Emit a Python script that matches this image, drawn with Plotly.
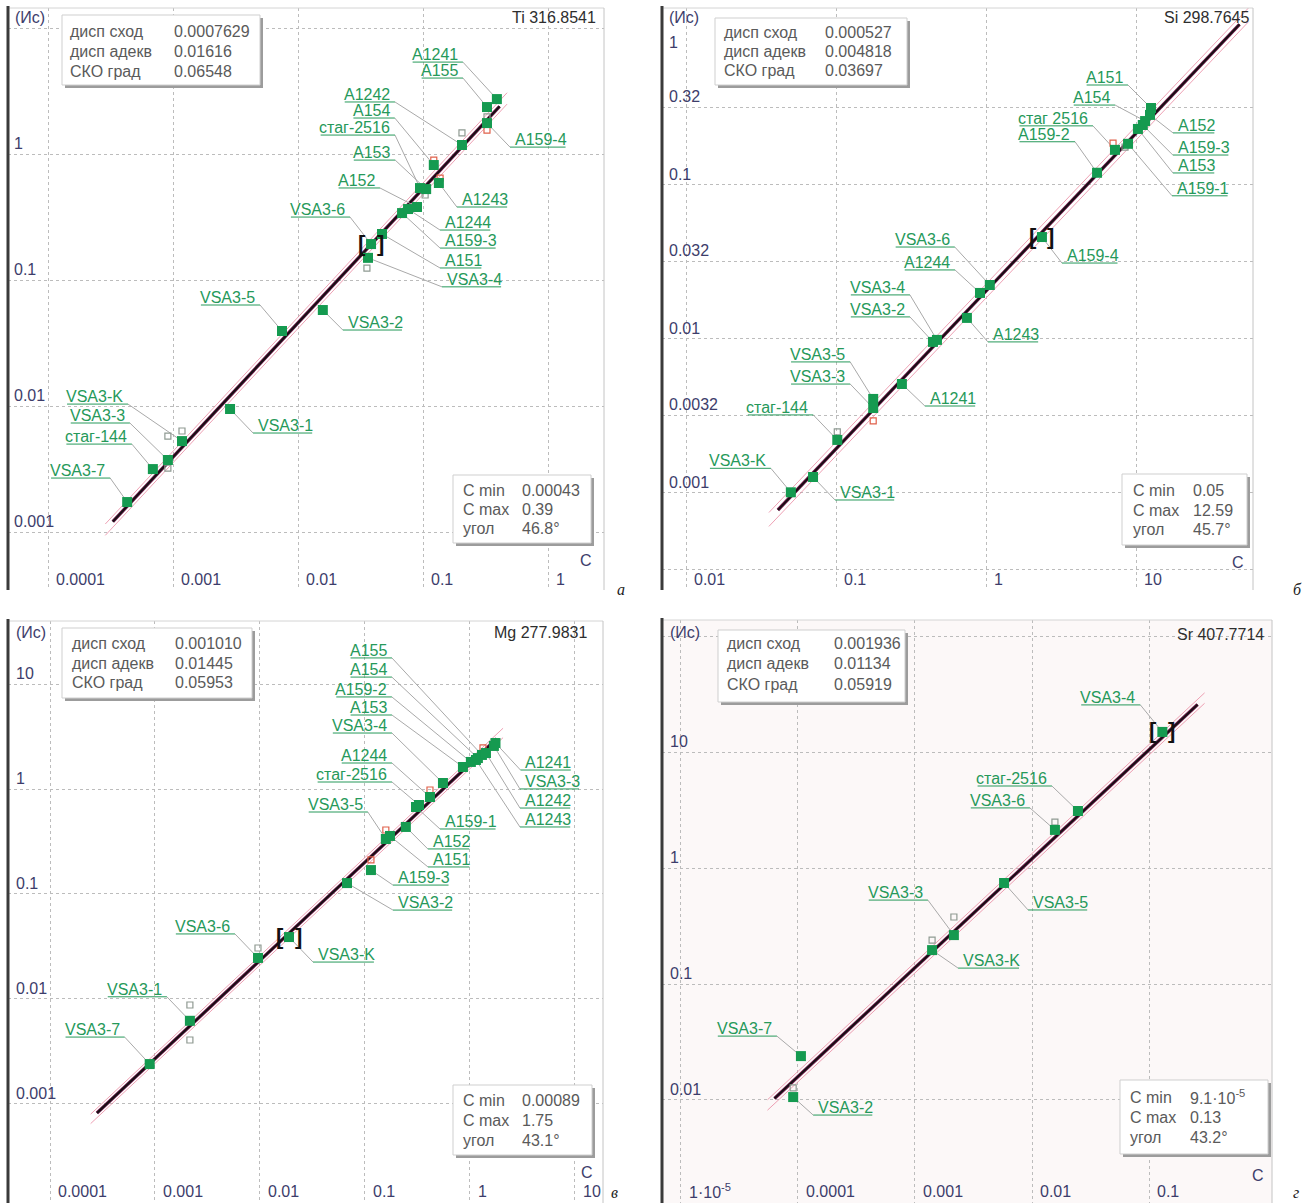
import math
import plotly.graph_objects as go

W, H = 1306, 1203

# ---------------- Ti 316.8541 ----------------
ti_names = ["VSA3-7", "стаг-144", "VSA3-3", "VSA3-K", "VSA3-1", "VSA3-5", "VSA3-2",
            "VSA3-4", "VSA3-6", "A151", "A159-3", "A1244", "A152", "стаг-2516",
            "A153", "A1243", "A154", "A1242", "A155", "A159-4", "A1241"]
ti_c = [0.00043, 0.00069, 0.00091, 0.00118, 0.00286, 0.00745, 0.0158,
        0.0363, 0.0384, 0.047, 0.068, 0.0759, 0.0895, 0.0946,
        0.106, 0.134, 0.122, 0.205, 0.325, 0.325, 0.39]
ti_i = [0.00173, 0.00316, 0.00373, 0.00527, 0.00947, 0.0394, 0.0578,
        0.150, 0.193, 0.232, 0.340, 0.366, 0.380, 0.537,
        0.527, 0.589, 0.818, 1.18, 2.36, 1.76, 2.73]
ti_rep_c = [0.00091, 0.00118, 0.00091, 0.0356, 0.205, 0.325, 0.104]
ti_rep_i = [0.00578, 0.00634, 0.00322, 0.1245, 1.47, 1.97, 0.473]
ti_out_c = [0.325, 0.137, 0.122]
ti_out_i = [1.55, 0.645, 0.896]
ti_stats = ["0.0007629", "0.01616", "0.06548"]
ti_range = ["0.00043", "0.39", "46.8°"]
ti_fit = dict(angle=46.8, intercept=0.79, c_from=0.00033, c_to=0.41)
ti_selected = "VSA3-6"

# ---------------- Si 298.7645 ----------------
si_names = ["VSA3-K", "VSA3-1", "стаг-144", "VSA3-3", "VSA3-5", "A1241", "VSA3-2",
            "VSA3-4", "A1243", "A1244", "VSA3-6", "A159-4", "A159-2", "стаг 2516",
            "A159-1", "A153", "A159-3", "A154", "A152", "A151"]
si_c = [0.05, 0.0703, 0.102, 0.177, 0.177, 0.275, 0.443,
        0.471, 0.746, 0.912, 1.06, 2.36, 5.5, 7.24,
        8.85, 10.3, 11.1, 11.5, 12.4, 12.59]
si_i = [0.00101, 0.00127, 0.00221, 0.00356, 0.00408, 0.0051, 0.00957,
        0.00986, 0.0137, 0.0199, 0.0224, 0.0459, 0.12, 0.169,
        0.185, 0.231, 0.245, 0.26, 0.285, 0.316]
si_rep_c = [0.102, 8.45]
si_rep_i = [0.00249, 0.176]
si_out_c = [0.177, 7.03]
si_out_i = [0.00294, 0.187]
si_stats = ["0.000527", "0.004818", "0.03697"]
si_range = ["0.05", "12.59", "45.7°"]
si_fit = dict(angle=45.7, intercept=-1.689, c_from=0.041, c_to=49.0)
si_selected = "A159-4"

# ---------------- Mg 277.9831 ----------------
mg_names = ["VSA3-7", "VSA3-1", "VSA3-6", "VSA3-K", "VSA3-2", "A159-3", "VSA3-5",
            "A151", "A152", "A159-1", "стаг-2516", "A1244", "VSA3-4", "A153",
            "A159-2", "A154", "A155", "A1243", "A1242", "VSA3-3", "A1241"]
mg_c = [0.00089, 0.00215, 0.00957, 0.0189, 0.0674, 0.114, 0.158,
        0.173, 0.245, 0.306, 0.327, 0.416, 0.553, 0.857,
        1.02, 1.19, 1.3, 1.14, 1.42, 1.69, 1.75]
mg_i = [0.0024, 0.0062, 0.0246, 0.0389, 0.127, 0.169, 0.334,
        0.357, 0.435, 0.674, 0.704, 0.839, 1.14, 1.62,
        1.81, 1.97, 2.11, 1.89, 2.2, 2.57, 2.74]
mg_rep_c = [0.00215, 0.00215, 0.00957]
mg_rep_i = [0.00877, 0.00407, 0.0306]
mg_out_c = [0.114, 0.158, 0.416, 1.33]
mg_out_i = [0.211, 0.407, 0.978, 2.46]
mg_stats = ["0.001010", "0.01445", "0.05953"]
mg_range = ["0.00089", "1.75", "43.1°"]
mg_fit = dict(angle=43.1, intercept=0.239, c_from=0.00028, c_to=1.8)
mg_selected = "VSA3-K"

# ---------------- Sr 407.7714 ----------------
sr_names = ["VSA3-2", "VSA3-7", "VSA3-K", "VSA3-3", "VSA3-5", "VSA3-6", "стаг-2516", "VSA3-4"]
sr_c = [9.1e-5, 0.000106, 0.0014, 0.00215, 0.00577, 0.0157, 0.0247, 0.13]
sr_i = [0.0106, 0.0239, 0.196, 0.264, 0.743, 2.13, 3.1, 14.9]
sr_rep_c = [0.00215, 0.0014, 9.1e-5, 0.0157]
sr_rep_i = [0.378, 0.239, 0.0127, 2.49]
sr_out_c = []
sr_out_i = []
sr_stats = ["0.001936", "0.01134", "0.05919"]
sr_range = ["9.1·10<sup>-5</sup>", "0.13", "43.2°"]
sr_fit = dict(angle=43.2, intercept=1.958, c_from=6.3e-5, c_to=0.26)
sr_selected = "VSA3-4"

stat_names = ["дисп сход", "дисп адекв", "СКО град"]
range_names = ["C min", "C max", "угол"]

# label placement: offset of the underline end from the point (px, screen y down), side of text
ti_labels = {
    "A1241": (-34, -37, "L"), "A155": (-24, -29, "L"), "A1242": (-67, -43, "L"),
    "A154": (-39, -47, "L"), "стаг-2516": (-25, -53, "L"), "A153": (-31, -29, "L"),
    "A152": (-37, -19, "L"), "VSA3-6": (-21, -27, "L"), "A159-4": (23, 24, "R"),
    "A1243": (18, 24, "R"), "A1244": (32, 21, "R"), "A159-3": (38, 35, "R"),
    "A151": (58, 34, "R"), "VSA3-4": (74, 29, "R"), "VSA3-5": (-22, -26, "L"),
    "VSA3-K": (-54, -37, "L"), "VSA3-3": (-38, -37, "L"), "стаг-144": (-21, -25, "L"),
    "VSA3-7": (-17, -24, "L"), "VSA3-1": (23, 24, "R"), "VSA3-2": (20, 20, "R"),
}
si_labels = {
    "VSA3-K": (-20, -24, "L"), "VSA3-1": (22, 23, "R"), "стаг-144": (-24, -25, "L"),
    "VSA3-5": (-23, -37, "L"), "VSA3-3": (-23, -24, "L"), "A1241": (23, 22, "R"),
    "VSA3-4": (-27, -45, "L"), "VSA3-2": (-23, -25, "L"), "VSA3-6": (-35, -38, "L"),
    "A1244": (-25, -23, "L"), "A1243": (21, 24, "R"), "A159-4": (20, 26, "R"),
    "A159-2": (-22, -31, "L"), "стаг 2516": (-22, -24, "L"), "A154": (-30, -16, "L"),
    "A151": (-23, -23, "L"), "A152": (23, 18, "R"), "A159-3": (30, 30, "R"),
    "A153": (35, 44, "R"), "A159-1": (44, 52, "R"),
}
mg_labels = {
    "A155": (-90, -97, "L"), "A154": (-86, -81, "L"), "A159-2": (-79, -65, "L"),
    "A153": (-71, -52, "L"), "VSA3-4": (-51, -50, "L"), "A1244": (-38, -34, "L"),
    "стаг-2516": (-27, -23, "L"), "VSA3-5": (-18, -27, "L"), "A159-1": (24, 22, "R"),
    "A152": (22, 22, "R"), "A151": (38, 31, "R"), "A159-3": (22, 15, "R"),
    "A1241": (25, 27, "R"), "VSA3-3": (26, 43, "R"), "A1242": (34, 55, "R"),
    "A1243": (44, 67, "R"), "VSA3-2": (46, 27, "R"), "VSA3-6": (-23, -24, "L"),
    "VSA3-K": (24, 25, "R"), "VSA3-1": (-23, -24, "L"), "VSA3-7": (-25, -27, "L"),
}
sr_labels = {
    "VSA3-4": (-22, -27, "L"), "стаг-2516": (-26, -25, "L"), "VSA3-6": (-25, -22, "L"),
    "VSA3-5": (24, 27, "R"), "VSA3-3": (-26, -35, "L"), "VSA3-K": (26, 18, "R"),
    "VSA3-7": (-24, -20, "L"), "VSA3-2": (20, 18, "R"),
}

panels = [
    dict(title="Ti 316.8541", names=ti_names, c=ti_c, i=ti_i, rep_c=ti_rep_c, rep_i=ti_rep_i,
         out_c=ti_out_c, out_i=ti_out_i, stats=ti_stats, rng=ti_range, fit=ti_fit,
         sel=ti_selected, labels=ti_labels, letter="а",
         frame=(8, 8, 604, 590), xr=[-4.32, 0.448], yr=[-3.460, 1.159],
         xgrid=[1e-4, 1e-3, 1e-2, 0.1, 1], ygrid=[1e-3, 1e-2, 0.1, 1, 10],
         xt=([1e-4, 1e-3, 1e-2, 0.1, 1], ["0.0001", "0.001", "0.01", "0.1", "1"]),
         yt=([1e-3, 1e-2, 0.1, 1], ["0.001", "0.01", "0.1", "1"]), yt_shift={},
         xlab_y=579, ylab_x=12, title_pos=(598, 18), ic=(13, 17), cpos=(586, 561), letter_pos=(621, 589),
         sbox=(62, 15, 260, 85), s_lx=68, s_vx=172, s_rows=(31, 51, 71),
         rbox=(453, 475, 591, 543), r_lx=461, r_vx=520, r_rows=(490, 509, 528), bg="white"),
    dict(title="Si 298.7645", names=si_names, c=si_c, i=si_i, rep_c=si_rep_c, rep_i=si_rep_i,
         out_c=si_out_c, out_i=si_out_i, stats=si_stats, rng=si_range, fit=si_fit,
         sel=si_selected, labels=si_labels, letter="б",
         frame=(662, 8, 1253, 590), xr=[-2.16, 1.78], yr=[-3.63, 0.149],
         xgrid=[1e-2, 0.1, 1, 10], ygrid=[0.00032, 0.001, 0.0032, 0.01, 0.032, 0.1, 0.32],
         xt=([1e-2, 0.1, 1, 10], ["0.01", "0.1", "1", "10"]),
         yt=([0.001, 0.0032, 0.01, 0.032, 0.1, 0.32, 1], ["0.001", "0.0032", "0.01", "0.032", "0.1", "0.32", "1"]),
         yt_shift={"1": -22},
         xlab_y=579, ylab_x=667, title_pos=(1252, 18), ic=(667, 17), cpos=(1238, 562), letter_pos=(1297, 589),
         sbox=(715, 18, 907, 85), s_lx=722, s_vx=823, s_rows=(32, 51, 70),
         rbox=(1122, 474, 1247, 545), r_lx=1131, r_vx=1191, r_rows=(490, 510, 529), bg="white"),
    dict(title="Mg 277.9831", names=mg_names, c=mg_c, i=mg_i, rep_c=mg_rep_c, rep_i=mg_rep_i,
         out_c=mg_out_c, out_i=mg_out_i, stats=mg_stats, rng=mg_range, fit=mg_fit,
         sel=mg_selected, labels=mg_labels, letter="в",
         frame=(8, 621, 603, 1203), xr=[-4.4, 1.267], yr=[-3.943, 1.6],
         xgrid=[1e-4, 1e-3, 1e-2, 0.1, 1, 10], ygrid=[1e-3, 1e-2, 0.1, 1, 10],
         xt=([1e-4, 1e-3, 1e-2, 0.1, 1, 10], ["0.0001", "0.001", "0.01", "0.1", "1", "10"]),
         yt=([1e-3, 1e-2, 0.1, 1, 10], ["0.001", "0.01", "0.1", "1", "10"]), yt_shift={},
         xlab_y=1191, ylab_x=14, title_pos=(590, 632), ic=(14, 632), cpos=(587, 1172), letter_pos=(614, 1192),
         sbox=(62, 628, 252, 698), s_lx=70, s_vx=173, s_rows=(643, 663, 682),
         rbox=(453, 1085, 592, 1155), r_lx=461, r_vx=520, r_rows=(1100, 1120, 1140), bg="white"),
    dict(title="Sr 407.7714", names=sr_names, c=sr_c, i=sr_i, rep_c=sr_rep_c, rep_i=sr_rep_i,
         out_c=sr_out_c, out_i=sr_out_i, stats=sr_stats, rng=sr_range, fit=sr_fit,
         sel=sr_selected, labels=sr_labels, letter="г",
         frame=(662, 620, 1272, 1203), xr=[-5.162, 0.051], yr=[-2.888, 2.138],
         xgrid=[1e-5, 1e-4, 1e-3, 1e-2, 0.1], ygrid=[1e-2, 0.1, 1, 10, 100],
         xt=([1e-5, 1e-4, 1e-3, 1e-2, 0.1], ["1·10<sup>-5</sup>", "0.0001", "0.001", "0.01", "0.1"]),
         yt=([1e-2, 0.1, 1, 10], ["0.01", "0.1", "1", "10"]), yt_shift={},
         xlab_y=1191, ylab_x=668, title_pos=(1266, 634), ic=(668, 632), cpos=(1258, 1175), letter_pos=(1296, 1192),
         sbox=(718, 630, 905, 702), s_lx=725, s_vx=832, s_rows=(643, 663, 684),
         rbox=(1120, 1080, 1268, 1154), r_lx=1128, r_vx=1188, r_rows=(1097, 1117, 1137), bg="#fcf8f8"),
]

FONT = "Liberation Sans, Arial, sans-serif"
GREEN = "#159a50"
LABEL_GREEN = "#26995a"
AXIS_TEXT = "#3d3d6b"
GRID = "#bcbcbc"

CHAR_W = {"A": .667, "V": .667, "S": .667, "K": .667, "-": .333, " ": .278, ".": .278,
          "с": .5, "т": .42, "а": .556, "г": .365}


def text_width(s, size):
    return size * sum(CHAR_W.get(ch, .556) for ch in s)


def fx(px):
    return px / W


def fy(py):
    return 1 - py / H


fig = go.Figure()
shapes = []
annotations = []


def paper_text(x, y, text, size=16, color="#555", xanchor="left", yanchor="middle", **kw):
    annotations.append(dict(xref="paper", yref="paper", x=fx(x), y=fy(y), text=text,
                            showarrow=False, xanchor=xanchor, yanchor=yanchor,
                            font=dict(family=FONT, size=size, color=color), **kw))


for k, p in enumerate(panels, start=1):
    sfx = "" if k == 1 else str(k)
    xref, yref = "x" + sfx, "y" + sfx
    l, t, r, b = p["frame"]
    # log units per screen pixel on each axis
    kx = (p["xr"][1] - p["xr"][0]) / (r - l)
    ky = (p["yr"][1] - p["yr"][0]) / (b - t)

    axis_common = dict(type="log", showgrid=True, gridcolor=GRID, griddash="dot", gridwidth=1,
                       tickmode="array", showticklabels=False, ticks="", zeroline=False,
                       showline=False, fixedrange=True)
    fig.update_layout(**{
        "xaxis" + sfx: dict(axis_common, range=p["xr"], domain=[fx(l), fx(r)], anchor=yref,
                            tickvals=p["xgrid"]),
        "yaxis" + sfx: dict(axis_common, range=p["yr"], domain=[fy(b), fy(t)], anchor=xref,
                            tickvals=p["ygrid"]),
    })

    # panel background and frame
    if p["bg"] != "white":
        shapes.append(dict(type="rect", xref="paper", yref="paper", x0=fx(l), x1=fx(r),
                           y0=fy(b), y1=fy(t), fillcolor=p["bg"], line=dict(width=0), layer="below"))
    shapes.append(dict(type="line", xref="paper", yref="paper", x0=fx(l), x1=fx(r), y0=fy(t), y1=fy(t),
                       line=dict(color="#d4d4d4", width=1)))
    shapes.append(dict(type="line", xref="paper", yref="paper", x0=fx(r), x1=fx(r), y0=fy(t), y1=fy(b),
                       line=dict(color="#c4c4c4", width=1)))
    shapes.append(dict(type="line", xref="paper", yref="paper", x0=fx(l), x1=fx(l), y0=fy(t - 2), y1=fy(b),
                       line=dict(color="#3a3a3a", width=3)))

    # calibration line with its confidence band
    fit = p["fit"]
    slope = math.tan(math.radians(fit["angle"]))
    lo, hi = math.log10(fit["c_from"]), math.log10(fit["c_to"])
    for off, ext in ((0.045, 0.06), (-0.045, 0.06)):
        xs = [10 ** (lo - ext), 10 ** (hi + ext)]
        ys = [10 ** (slope * math.log10(v) + fit["intercept"] + off) for v in xs]
        fig.add_trace(go.Scatter(x=xs, y=ys, mode="lines", xaxis=xref, yaxis=yref,
                                 line=dict(color="rgba(232,130,155,0.75)", width=1),
                                 hoverinfo="skip", showlegend=False))
    xs = [10 ** lo, 10 ** hi]
    ys = [10 ** (slope * math.log10(v) + fit["intercept"]) for v in xs]
    fig.add_trace(go.Scatter(x=xs, y=ys, mode="lines", xaxis=xref, yaxis=yref,
                             line=dict(color="#6e1846", width=3.4), hoverinfo="skip", showlegend=False))
    fig.add_trace(go.Scatter(x=xs, y=ys, mode="lines", xaxis=xref, yaxis=yref,
                             line=dict(color="#141014", width=1.8), hoverinfo="skip", showlegend=False))

    # leaders and underlines of the sample labels (drawn below the markers)
    for name, cv, iv in zip(p["names"], p["c"], p["i"]):
        dx, dy, side = p["labels"][name]
        ax_ = math.log10(cv) + dx * kx
        ay_ = math.log10(iv) - dy * ky
        w = text_width(name, 16) + 4
        far = ax_ - w * kx if side == "L" else ax_ + w * kx
        fig.add_trace(go.Scatter(x=[10 ** ax_, cv], y=[10 ** ay_, iv], mode="lines",
                                 xaxis=xref, yaxis=yref, line=dict(color="#a9a9a9", width=1),
                                 hoverinfo="skip", showlegend=False))
        fig.add_trace(go.Scatter(x=[10 ** far, 10 ** ax_], y=[10 ** ay_, 10 ** ay_], mode="lines",
                                 xaxis=xref, yaxis=yref, line=dict(color=LABEL_GREEN, width=1),
                                 hoverinfo="skip", showlegend=False))
        annotations.append(dict(xref=xref, yref=yref, x=ax_, y=ay_, text=name,
                                showarrow=False, xanchor="right" if side == "L" else "left",
                                yanchor="bottom", xshift=-3 if side == "L" else 3,
                                yshift=-3, font=dict(family=FONT, size=16, color=LABEL_GREEN)))

    # parallel measurements
    fig.add_trace(go.Scatter(x=p["rep_c"], y=p["rep_i"], mode="markers", xaxis=xref, yaxis=yref,
                             marker=dict(symbol="square-open", size=6, color="#8f9a92", line=dict(width=1.2)),
                             hoverinfo="skip", showlegend=False))
    if p["out_c"]:
        fig.add_trace(go.Scatter(x=p["out_c"], y=p["out_i"], mode="markers", xaxis=xref, yaxis=yref,
                                 marker=dict(symbol="square-open", size=6, color="#e0604a", line=dict(width=1.2)),
                                 hoverinfo="skip", showlegend=False))

    # reference samples
    fig.add_trace(go.Scatter(x=p["c"], y=p["i"], mode="markers", xaxis=xref, yaxis=yref,
                             marker=dict(symbol="square", size=10, color=GREEN, line=dict(width=0)),
                             text=p["names"], hoverinfo="text", showlegend=False))

    # brackets around the selected sample
    si = p["names"].index(p["sel"])
    for br, shift in (("[", -9), ("]", 9)):
        annotations.append(dict(xref=xref, yref=yref, x=math.log10(p["c"][si]), y=math.log10(p["i"][si]),
                                text="<b>" + br + "</b>", showarrow=False, xanchor="center",
                                yanchor="middle", xshift=shift, yshift=1,
                                font=dict(family=FONT, size=22, color="#111")))

    # tick labels
    for v, txt in zip(*p["xt"]):
        annotations.append(dict(xref=xref, yref="paper", x=math.log10(v), y=fy(p["xlab_y"]), text=txt,
                                showarrow=False, xanchor="left", yanchor="middle", xshift=6,
                                font=dict(family=FONT, size=16, color=AXIS_TEXT)))
    for v, txt in zip(*p["yt"]):
        annotations.append(dict(xref="paper", yref=yref, x=fx(p["ylab_x"]), y=math.log10(v), text=txt,
                                showarrow=False, xanchor="left", yanchor="bottom",
                                yshift=p["yt_shift"].get(txt, 0),
                                font=dict(family=FONT, size=16, color=AXIS_TEXT)))

    paper_text(p["ic"][0], p["ic"][1], "(Ис)", size=16, color=AXIS_TEXT)
    paper_text(p["cpos"][0], p["cpos"][1], "C", size=16, color=AXIS_TEXT, xanchor="center")
    paper_text(p["title_pos"][0], p["title_pos"][1], p["title"], size=16, color="#2e2e2e", xanchor="right")
    annotations.append(dict(xref="paper", yref="paper", x=fx(p["letter_pos"][0]), y=fy(p["letter_pos"][1]),
                            text=p["letter"], showarrow=False, xanchor="center", yanchor="middle",
                            font=dict(family="Liberation Serif, serif", size=16, color="#222", style="italic")))

    # statistics boxes
    for box, lx, vx, rows, names_col, vals in (
            (p["sbox"], p["s_lx"], p["s_vx"], p["s_rows"], stat_names, p["stats"]),
            (p["rbox"], p["r_lx"], p["r_vx"], p["r_rows"], range_names, p["rng"])):
        bx0, by0, bx1, by1 = box
        shapes.append(dict(type="rect", xref="paper", yref="paper", x0=fx(bx0 + 3), x1=fx(bx1 + 3),
                           y0=fy(by1 + 3), y1=fy(by0 + 3), fillcolor="#9c9c9c", line=dict(width=0)))
        shapes.append(dict(type="rect", xref="paper", yref="paper", x0=fx(bx0), x1=fx(bx1),
                           y0=fy(by1), y1=fy(by0), fillcolor="white", line=dict(color="#cfcfcf", width=1)))
        for ry, nm, vv in zip(rows, names_col, vals):
            paper_text(lx, ry, nm, size=16, color="#5a5a5a")
            paper_text(vx, ry, vv, size=16, color="#5a5a5a")

fig.update_layout(
    width=W, height=H, margin=dict(l=0, r=0, t=0, b=0),
    paper_bgcolor="white", plot_bgcolor="white",
    showlegend=False, shapes=shapes, annotations=annotations,
    font=dict(family=FONT),
)

fig.write_html("out.html")
